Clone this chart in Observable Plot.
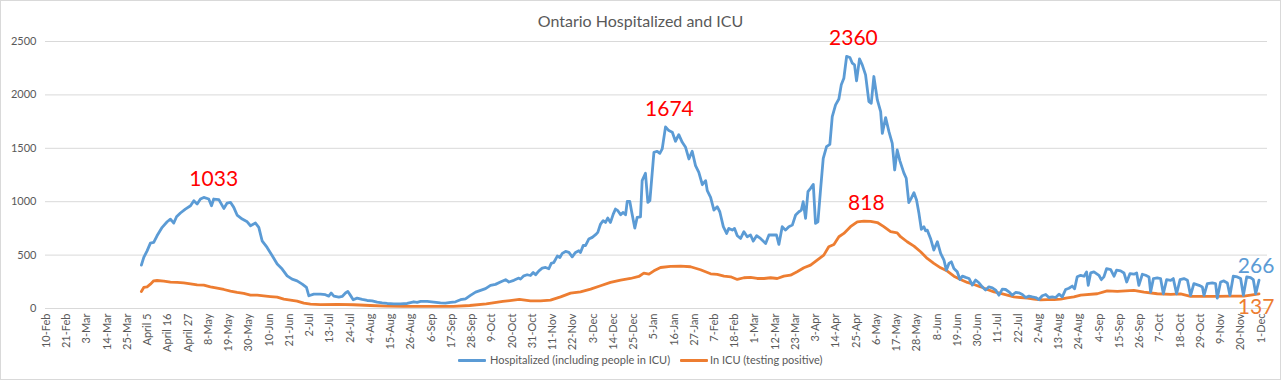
<!DOCTYPE html>
<html>
<head>
<meta charset="utf-8">
<script src="https://cdn.jsdelivr.net/npm/d3@7"></script>
<script src="https://cdn.jsdelivr.net/npm/@observablehq/plot@0.6"></script>
<style>
  body { margin: 0; background: #fff; }
  #chart { position: relative; width: 1281px; height: 380px; font-family: Lato, "Liberation Sans", sans-serif; }
  #frame { position: absolute; left: 0; top: 0; width: 1279px; height: 378px; border: 1px solid #d9d9d9; pointer-events: none; }
  #title { position: absolute; left: 0; width: 1281px; top: 11px; text-align: center; font-size: 16px; color: #595959; }
  #legend { position: absolute; top: 352px; left: 0; width: 1281px; height: 16px; font-size: 11px; color: #595959; }
  .sw { position: absolute; top: 7px; height: 3px; border-radius: 1px; }
  .lt { position: absolute; top: 0; line-height: 16px; white-space: nowrap; }
  svg { position: absolute; left: 0; top: 0; }
</style>
</head>
<body>
<div id="chart">
  <div id="title">Ontario Hospitalized and ICU</div>
  <div id="legend"></div>
  <div id="frame"></div>
</div>
<script>
// Day index 0 = 10-Feb-2020 (one category per day on the x axis)
const tickLabels = ["10-Feb","21-Feb","3-Mar","14-Mar","25-Mar","April 5","April 16","April 27","8-May","19-May","30-May","10-Jun","21-Jun","2-Jul","13-Jul","24-Jul","4-Aug","15-Aug","26-Aug","6-Sep","17-Sep","28-Sep","9-Oct","20-Oct","31-Oct","11-Nov","22-Nov","3-Dec","14-Dec","25-Dec","5-Jan","16-Jan","27-Jan","7-Feb","18-Feb","1-Mar","12-Mar","23-Mar","3-Apr","14-Apr","25-Apr","6-May","17-May","28-May","8-Jun","19-Jun","30-Jun","11-Jul","22-Jul","2-Aug","13-Aug","24-Aug","4-Sep","15-Sep","26-Sep","7-Oct","18-Oct","29-Oct","9-Nov","20-Nov","1-Dec"];
const yTicks = [0, 500, 1000, 1500, 2000, 2500];

// [day index, patients]
const hospitalized = [
[51.6,406],[52.9,478],[54.7,540],[56.5,612],[58.3,619],[60.1,681],[62.9,760],[65.6,812],[67.4,837],[69.2,800],[70.7,859],[72.8,894],[75.5,931],[78.3,962],[80.1,1009],[81.9,978],[83.7,1025],[85.5,1040],[88.2,1025],[89.7,962],[90.9,1025],[93.7,1019],[96.4,937],[98.2,987],[100,994],[101.8,947],[103.6,875],[106.4,837],[109.1,812],[110.9,775],[113.6,800],[115.4,760],[117.2,634],[119.9,572],[122.7,494],[125.4,416],[128.1,369],[130.8,306],[133.5,275],[136.2,259],[139,228],[141.3,197],[142.6,119],[145.3,134],[148.9,134],
[151.6,129],[153.4,116],[154.7,145],[156.2,116],[158.9,107],[160.7,113],[162.5,145],[163.8,160],[165.2,123],[166.7,82],[168.8,97],[171.6,85],[174.3,75],[177,72],[179.7,60],[182.4,53],[185.2,47],[188.8,44],[192.4,44],[196,47],[199.6,63],[201.5,57],[203.3,66],[206.9,66],[210.5,60],[214.1,53],[216.8,50],[219.6,57],[222.3,63],[225,82],[227.7,91],[230.4,123],[233.2,154],[235.9,170],[238.6,186],[241.3,217],[244,226],[246.7,248],[249.5,270],[251.3,248],[254,264],[256.7,285],[257.6,275],
[259.4,306],[261.2,316],[263,309],[264.5,337],[265.8,316],[267.6,353],[269.4,378],[271.2,384],[273,372],[274.3,422],[275.7,431],[277.6,491],[279,478],[280.3,516],[282.1,534],[283.9,525],[285.7,484],[287.5,525],[289.3,541],[290.2,525],[291.7,591],[292.9,588],[294.7,650],[296.6,666],[298.4,691],[299.6,713],[301.1,791],[302.5,822],[303.8,806],[305,847],[306.5,806],[308,884],[309.2,931],[310.5,916],[312,878],[313.4,900],[314.7,878],[315.6,1003],[317,1003],[317.9,916],[319.7,753],[321,853],[322.8,859],[323.7,1197],[325.5,1266],[326.8,994],[327.9,1009],[330.1,1462],[331.9,1472],[333.3,1453],[334.6,1494],[336.4,1701],[338.2,1666],[340.1,1650],[341.8,1566],[343.6,1628],[345.5,1556],[347.3,1509],[349.1,1400],[350.9,1472],[352.7,1338],[354.5,1275],[356.4,1159],[358.2,1197],[359.1,1103],[360.9,1041],
[362.7,922],[364.5,953],[365.9,906],[367.8,766],[369.6,703],[370.8,750],[372.7,734],[373.9,750],[375.4,681],[377.2,656],[379,719],[380.8,672],[382.6,688],[384.1,631],[385.9,681],[388,656],[390.8,609],[392.6,688],[395.3,688],[396.7,688],[398,600],[399.8,766],[401.6,734],[403.4,766],[405.3,781],[407.1,875],[408.9,906],[410.2,922],[411.2,1000],[412.5,844],[413.8,1094],[415.2,1125],[416.7,1162],[417.9,797],[419.2,812],[420.7,1125],[422.1,1406],[423.9,1516],[425.7,1537],[427,1797],[428.8,1906],[430.6,1962],[431.9,2094],[433.3,2156],[434.8,2360],[436.6,2350],[437.9,2297],[439.1,2281],[440.2,2131],[441.8,2337],[443.3,2281],[445.1,2187],[446.9,1937],[448.2,1922],[449.6,2172],[451.5,1953],[453.3,1844],[454.2,1640],[456,1787],[457.8,1656],[459.6,1547],[460.9,1297],[462.3,1484],[463.8,1380],
[465.9,1270],[467.2,1219],[468.6,991],[469.9,1031],[471.4,1084],[472.8,1016],[474.1,891],[475.4,741],[476.8,766],[477.7,728],[478.6,734],[480.4,656],[482.2,547],[484.1,625],[485.9,516],[487.7,453],[489,359],[490.4,422],[491.7,437],[493.1,375],[494.9,344],[496.4,272],[497.7,303],[499.5,291],[501.3,281],[503.1,219],[504.9,266],[506.7,241],[508.5,203],[510.3,172],[512.1,203],[514,194],[515.8,172],[517.6,125],[519.4,181],[521.2,178],[523,156],[524.8,125],[526.6,150],[528.4,147],[530.3,131],[532.1,103],[533.9,116],[535.7,109],[537.5,103],[539.3,84],[541.1,119],[543,131],[544.7,103],[546.6,109],[548.4,103],[550.2,134],[552,109],[553.8,178],[555.6,190],[557.4,210],[558.7,185],[560.1,297],
[562,311],[563.8,302],[565.2,343],[566.1,217],[567.4,333],[569.2,343],[571.9,311],[573.2,270],[574.6,296],[576.1,374],[578.3,365],[580.1,302],[581.5,359],[583.7,352],[585.5,333],[587,248],[588.8,327],[590.9,321],[592.4,333],[593.6,217],[595.5,321],[597.3,311],[599.1,296],[600,154],[601.5,280],[603.6,286],[605.4,280],[606.9,138],[608.7,270],[610.9,264],[612.3,280],[614.1,138],[616,270],[618.1,280],[620,264],[621.7,123],[623.5,233],[626.3,217],[628.1,201],[629,123],[630.8,233],[633.5,239],[635.3,233],[636.2,97],[638,248],[639.8,258],[641.7,239],[643.1,123],[644.9,302],[647.1,296],[648.9,280],[650.4,123],[652.2,296],[654.3,289],[655.8,270],[657.1,138],[658.9,266]
];

const inICU = [
[51.6,159],[52.9,197],[54.7,203],[56.5,228],[58.3,259],[60.1,262],[63.8,256],[67.4,247],[71,244],[74.6,240],[78.3,231],[81.9,222],[85.5,219],[89.1,203],[92.8,191],[96.4,178],[100,162],[103.6,150],[107.2,141],[110.9,125],[114.5,125],[118.1,119],[121.7,112],[125.4,106],[129,87],[132.6,78],[136.2,69],[139.9,50],[143.5,41],[148.9,36],
[158,38],[167,35],[176,28],[185,22],[194,19],[203,19],[212,19],[221,19],[230,28],[239,44],[248,66],[257,85],
[263,72],[268.5,72],[273.9,78],[279.4,109],[284.8,144],[290.2,156],[295.7,181],[301.1,213],[306.5,244],[312,266],[317.4,281],[321.9,300],[324.6,331],[327.4,322],[330.1,353],[333.7,384],[339.1,394],[344.6,397],[350,391],[355.4,363],[360.9,325],
[364.5,319],[368.2,303],[371.8,297],[375.4,272],[379,288],[382.6,291],[386.2,281],[389.9,281],[393.5,288],[397.1,281],[400.7,303],[404.3,312],[407.9,344],[411.6,381],[415.2,406],[418.8,453],[422.4,500],[425.1,578],[427.9,600],[430.6,672],[433.3,703],[436.9,766],[440.6,812],[444.2,818],[447.8,816],[451.5,805],[455,766],[458.7,719],[462.3,709],[464.1,672],
[467.7,625],[471.4,584],[475,531],[478.6,469],[482.2,422],[485.9,381],[489.5,350],[493.1,303],[496.7,272],[500.4,244],[504,225],[507.6,203],[511.2,178],[514.9,156],[518.5,141],[522.1,125],[525.7,109],[529.3,103],[533,97],[536.6,88],[540.2,81],[543.8,84],[547.5,84],[551.1,88],[554.7,100],[558.3,109],[562,125],
[571,138],[576.4,165],[581.9,160],[590.9,170],[596.4,154],[603.6,138],[610.9,132],[616.3,136],[621.7,113],[629,113],[636.2,113],[643.5,116],[650.7,116],[658.9,137]
];

const peakLabels = [
  {day: 90.9, value: 1040, text: "1033"},
  {day: 338.5, value: 1701, text: "1674"},
  {day: 438.5, value: 2360, text: "2360"},
  {day: 445.5, value: 818, text: "818"},
];
const endLabels = [
  {day: 658.9, value: 266, text: "266"},
  {day: 658.9, value: 137, text: "137"},
];
const seriesNames = ["Hospitalized (including people in ICU)", "In ICU (testing positive)"];
const seriesColors = ["#5B9BD5", "#ED7D31"];

const labelByDay = new Map(tickLabels.map((t, i) => [i * 11, t]));
const tickDays = tickLabels.map((t, i) => i * 11);
const font = 'Lato, "Liberation Sans", sans-serif';

const chart = Plot.plot({
  width: 1281,
  height: 380,
  marginTop: 41,
  marginBottom: 72,
  marginLeft: 45,
  marginRight: 14,
  style: {fontFamily: font, fontSize: "11px", color: "#595959", background: "transparent", overflow: "visible"},
  x: {type: "linear", domain: [-0.5, 663.5]},
  y: {domain: [0, 2500]},
  marks: [
    Plot.gridY(yTicks, {stroke: "#d9d9d9", strokeOpacity: 1, strokeWidth: 1}),
    Plot.axisY(yTicks, {tickSize: 0, tickPadding: 9, fill: "#595959", fontSize: 11, label: null, tickFormat: d => String(d)}),
    Plot.axisX(tickDays, {tickSize: 0, tickPadding: 5, tickRotate: -90, tickFormat: d => labelByDay.get(d), fill: "#595959", fontSize: 11, label: null}),
    Plot.line(inICU, {x: d => d[0], y: d => d[1], stroke: seriesColors[1], strokeWidth: 2.8}),
    Plot.line(hospitalized, {x: d => d[0], y: d => d[1], stroke: seriesColors[0], strokeWidth: 2.8}),
    Plot.text(peakLabels, {x: "day", y: "value", text: "text", fill: "#FF0000", fontSize: 21, dy: -18}),
    Plot.text(endLabels.slice(0, 1), {x: "day", y: "value", text: "text", fill: seriesColors[0], fontSize: 21, dx: -3, dy: -14}),
    Plot.text(endLabels.slice(1, 2), {x: "day", y: "value", text: "text", fill: seriesColors[1], fontSize: 21, dx: -3, dy: 13})
  ]
});
document.getElementById("chart").insertBefore(chart, document.getElementById("frame"));

// legend
const legend = document.getElementById("legend");
const legendPos = [[458, 490], [680, 710]];
seriesNames.forEach((name, i) => {
  const sw = document.createElement("div");
  sw.className = "sw";
  sw.style.left = legendPos[i][0] + "px";
  sw.style.width = "28px";
  sw.style.background = seriesColors[i];
  legend.appendChild(sw);
  const t = document.createElement("span");
  t.className = "lt";
  t.style.left = legendPos[i][1] + "px";
  t.textContent = name;
  legend.appendChild(t);
});
</script>
</body>
</html>
